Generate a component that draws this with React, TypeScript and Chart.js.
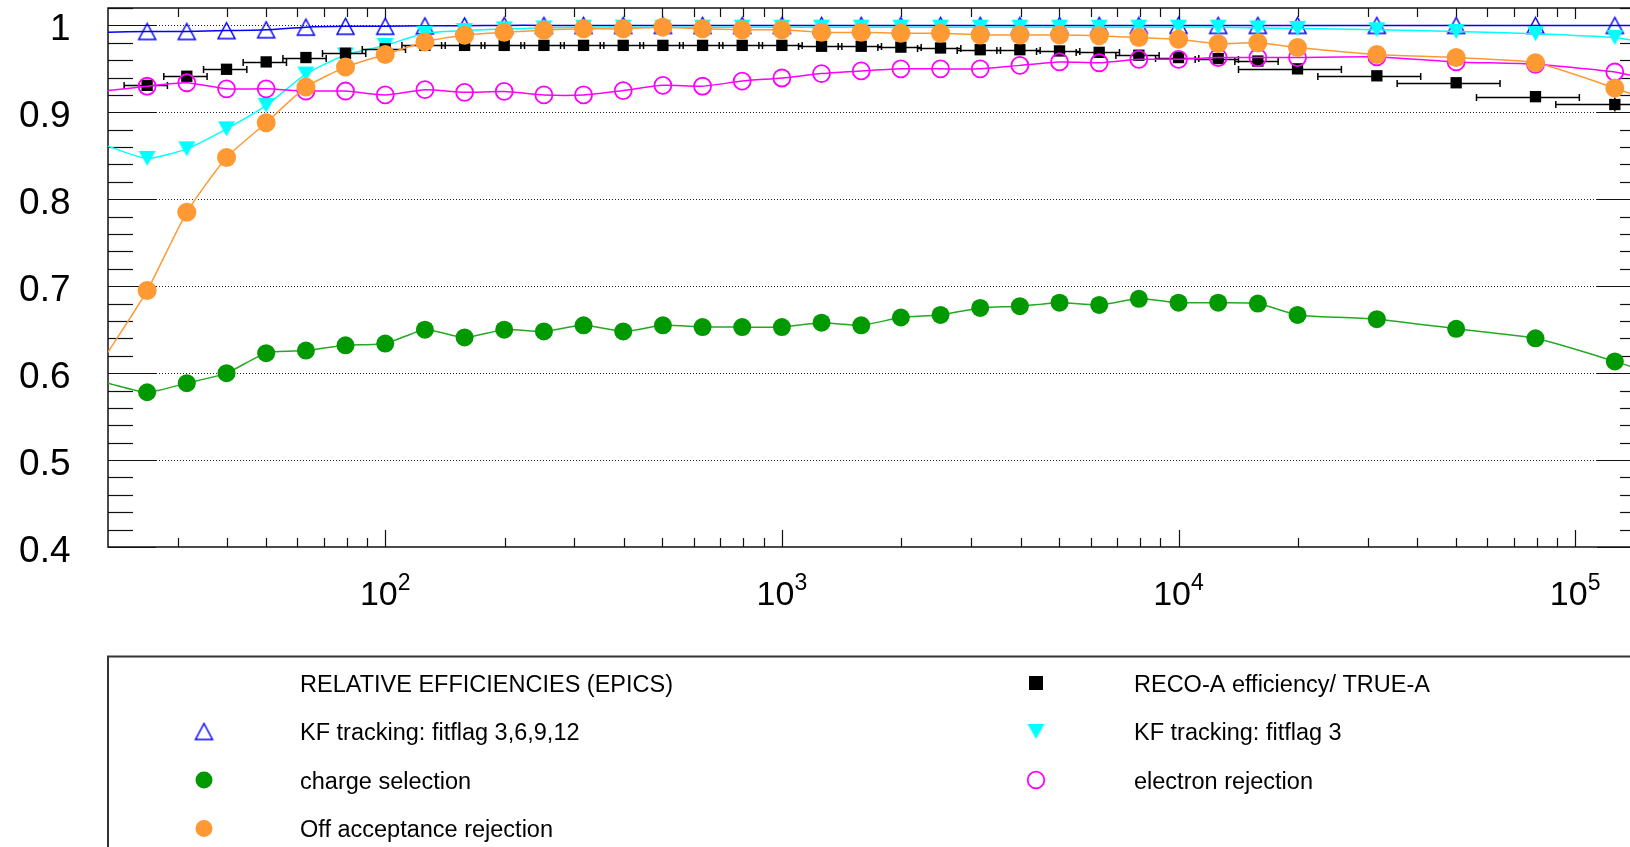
import React, { useEffect, useRef } from "react";
import { Chart, registerables } from "chart.js";

Chart.register(...registerables);

const CANVAS_W = 1700;
const CANVAS_H = 847;
const FONT = '"Liberation Sans", Arial, Helvetica, sans-serif';

// Bin centres on the logarithmic x axis
const binCenters = [
  25.1, 31.6, 39.8, 50.1, 63.1, 79.4, 100, 125.9, 158.5, 199.5,
  251.2, 316.2, 398.1, 501.2, 631.0, 794.3, 1000, 1258.9, 1584.9, 1995.3,
  2511.9, 3162.3, 3981.1, 5011.9, 6309.6, 7943.3, 10000, 12589, 15849, 19953,
  31623, 50119, 79433, 125893,
];
// Where the smoothed curves meet the frame (left / right)
const curveEnds = [20, 150000];

const kfAllFlags = [
  0.993, 0.993, 0.994, 0.995, 0.998, 0.999, 0.999, 0.9995, 0.9995, 1.0,
  1.0, 1.0, 1.0, 1.0, 1.0, 1.0, 1.0, 1.0, 1.0, 1.0,
  1.0, 1.0, 1.0, 1.0, 1.0, 1.0, 1.0, 1.0, 1.0, 1.0,
  1.0, 1.0, 1.0, 1.0,
];
const kfAllEnds = [0.992, 1.0];

const kfFlag3 = [
  0.847, 0.858, 0.881, 0.908, 0.944, 0.966, 0.977, 0.991, 0.994, 0.996,
  0.997, 0.998, 0.998, 0.998, 0.998, 0.998, 0.998, 0.998, 0.998, 0.998,
  0.998, 0.998, 0.998, 0.998, 0.998, 0.998, 0.998, 0.998, 0.997, 0.9965,
  0.995, 0.993, 0.9905, 0.986,
];
const kfFlag3Ends = [0.861, 0.98];

const chargeSel = [
  0.578, 0.5885, 0.6, 0.623, 0.626, 0.632, 0.634, 0.65, 0.641, 0.65,
  0.648, 0.655, 0.648, 0.655, 0.653, 0.653, 0.653, 0.658, 0.655, 0.664,
  0.667, 0.675, 0.677, 0.681, 0.6785, 0.6855, 0.681, 0.681, 0.68, 0.667,
  0.662, 0.651, 0.64, 0.6135,
];
const chargeSelEnds = [0.5885, 0.602];

const offAcceptance = [
  0.695, 0.785, 0.848, 0.888, 0.929, 0.952, 0.9665, 0.981, 0.9887, 0.992,
  0.9945, 0.996, 0.996, 0.998, 0.996, 0.995, 0.995, 0.992, 0.992, 0.991,
  0.991, 0.989, 0.989, 0.989, 0.988, 0.986, 0.984, 0.979, 0.98, 0.9745,
  0.9665, 0.963, 0.957, 0.928,
];
const offAcceptanceEnds = [0.624, 0.915];

const electronRej = [
  0.93, 0.934, 0.927, 0.927, 0.9245, 0.9245, 0.92, 0.926, 0.923, 0.924,
  0.92, 0.92, 0.925, 0.931, 0.93, 0.936, 0.9395, 0.9446, 0.9476, 0.95,
  0.95, 0.95, 0.954, 0.958, 0.957, 0.961, 0.961, 0.963, 0.963, 0.963,
  0.9637, 0.958, 0.9553, 0.9464,
];
const electronRejEnds = [0.925, 0.9388];

const recoEff = [
  0.931, 0.9415, 0.9495, 0.958, 0.963, 0.968, 0.973, 0.977, 0.977, 0.977,
  0.977, 0.977, 0.977, 0.977, 0.977, 0.977, 0.977, 0.976, 0.976, 0.975,
  0.974, 0.972, 0.972, 0.9706, 0.969, 0.9657, 0.963, 0.9618, 0.959, 0.95,
  0.942, 0.934, 0.918, 0.909,
];
// Horizontal error half-width, relative to the bin centre
const recoRelXErr = [
  0.125, 0.125, 0.125, 0.125, 0.125, 0.125, 0.125, 0.125, 0.125, 0.125,
  0.125, 0.125, 0.125, 0.125, 0.125, 0.125, 0.125, 0.125, 0.125, 0.125,
  0.125, 0.125, 0.125, 0.125, 0.125, 0.125, 0.125, 0.125, 0.125, 0.29,
  0.29, 0.29, 0.29, 0.29,
];
const recoYErr = [
  0, 0, 0, 0, 0, 0, 0, 0, 0, 0,
  0, 0, 0, 0, 0, 0, 0, 0, 0, 0,
  0, 0, 0, 0, 0, 0, 0, 0, 0, 0.002,
  0.002, 0.003, 0.004, 0.008,
];

const yTickValues = [0.4, 0.5, 0.6, 0.7, 0.8, 0.9, 1.0];
const yTickLabels = ["0.4", "0.5", "0.6", "0.7", "0.8", "0.9", "1"];
const xDecades = [100, 1000, 10000, 100000];
const xDecadeExponents = ["2", "3", "4", "5"];

const legendTitle = "RELATIVE EFFICIENCIES (EPICS)";
const LBL_KF_ALL = "KF tracking: fitflag 3,6,9,12";
const LBL_CHARGE = "charge selection";
const LBL_OFFACC = "Off acceptance rejection";
const LBL_RECO = "RECO-A efficiency/ TRUE-A";
const LBL_KF3 = "KF tracking: fitflag 3";
const LBL_ELEC = "electron rejection";

const COL_BLUE = "#0000ff";
const COL_CYAN = "#00ffff";
const COL_GREEN = "#009900";
const COL_GREEN_LINE = "#22aa22";
const COL_ORANGE = "#ff9933";
const COL_MAGENTA = "#ff00ff";

function triangleMarker(color: string, filled: boolean, down: boolean, w: number, h: number, lw: number) {
  const c = document.createElement("canvas");
  const pad = 2;
  c.width = Math.ceil(w + 2 * pad);
  c.height = Math.ceil(h + 2 * pad);
  const g = c.getContext("2d")!;
  const cx = c.width / 2;
  const cy = c.height / 2;
  g.beginPath();
  if (down) {
    g.moveTo(cx - w / 2, cy - h / 2);
    g.lineTo(cx + w / 2, cy - h / 2);
    g.lineTo(cx, cy + h / 2);
  } else {
    g.moveTo(cx, cy - h / 2);
    g.lineTo(cx + w / 2, cy + h / 2);
    g.lineTo(cx - w / 2, cy + h / 2);
  }
  g.closePath();
  if (filled) {
    g.fillStyle = color;
    g.fill();
  } else {
    g.strokeStyle = color;
    g.lineWidth = lw;
    g.stroke();
  }
  return c;
}

function curveData(values: number[], ends: number[]) {
  return [
    { x: curveEnds[0], y: ends[0] },
    ...binCenters.map((x, i) => ({ x, y: values[i] })),
    { x: curveEnds[1], y: ends[1] },
  ];
}

function endlessRadius(r: number) {
  const last = binCenters.length + 1;
  return (ctx: any) => (ctx.dataIndex === 0 || ctx.dataIndex === last ? 0 : r);
}

function line(ctx: CanvasRenderingContext2D, x1: number, y1: number, x2: number, y2: number) {
  ctx.beginPath();
  ctx.moveTo(x1, y1);
  ctx.lineTo(x2, y2);
  ctx.stroke();
}

// Frame, inward ticks, dotted grid and tick labels in the style of a ROOT canvas
const frameAxesPlugin = {
  id: "frameAxes",
  beforeDatasetsDraw(chart: any) {
    const { ctx, chartArea: a, scales } = chart;
    const xs = scales.x;
    const ys = scales.y;
    ctx.save();

    ctx.strokeStyle = "#222";
    ctx.lineWidth = 1;
    ctx.setLineDash([1, 2]);
    for (const v of yTickValues) {
      if (v <= 0.4) continue;
      const py = Math.round(ys.getPixelForValue(v)) + 0.5;
      line(ctx, a.left, py, a.right, py);
    }
    ctx.setLineDash([]);

    ctx.strokeStyle = "#111";
    ctx.lineWidth = 1.2;
    for (let k = 20; k <= 51; k++) {
      const v = k * 0.02;
      const py = Math.round(ys.getPixelForValue(v)) + 0.5;
      const len = k % 5 === 0 ? 48 : 25;
      line(ctx, a.left, py, a.left + len, py);
      line(ctx, a.right, py, a.right - len, py);
    }
    for (let e = 1; e <= 5; e++) {
      for (let m = 1; m <= 9; m++) {
        const v = m * Math.pow(10, e);
        if (v <= curveEnds[0] || v >= curveEnds[1]) continue;
        const px = Math.round(xs.getPixelForValue(v)) + 0.5;
        const major = m === 1;
        line(ctx, px, a.bottom, px, a.bottom - (major ? 17 : 9));
        line(ctx, px, a.top, px, a.top + (major ? 11 : 9));
      }
    }

    ctx.strokeStyle = "#111";
    ctx.lineWidth = 1.5;
    ctx.strokeRect(a.left, a.top, a.right - a.left, a.bottom - a.top);

    ctx.fillStyle = "#000";
    ctx.textAlign = "right";
    ctx.textBaseline = "alphabetic";
    ctx.font = `37px ${FONT}`;
    yTickValues.forEach((v, i) => {
      const py = ys.getPixelForValue(v);
      ctx.fillText(yTickLabels[i], 70.5, py + 15);
    });

    ctx.textAlign = "left";
    xDecades.forEach((v, i) => {
      const px = xs.getPixelForValue(v);
      ctx.font = `34px ${FONT}`;
      const wBase = ctx.measureText("10").width;
      ctx.font = `23px ${FONT}`;
      const wExp = ctx.measureText(xDecadeExponents[i]).width;
      const x0 = px - (wBase + wExp) / 2;
      ctx.font = `34px ${FONT}`;
      ctx.fillText("10", x0, 605);
      ctx.font = `23px ${FONT}`;
      ctx.fillText(xDecadeExponents[i], x0 + wBase, 590);
    });
    ctx.restore();
  },
};

// Horizontal (bin width) and vertical error bars of the RECO-A points
const errorBarPlugin = {
  id: "recoErrorBars",
  beforeDatasetDraw(chart: any, args: any) {
    if (chart.data.datasets[args.index].label !== LBL_RECO) return;
    const { ctx, chartArea: a, scales } = chart;
    const xs = scales.x;
    const ys = scales.y;
    ctx.save();
    ctx.beginPath();
    ctx.rect(a.left, a.top, a.right - a.left, a.bottom - a.top);
    ctx.clip();
    ctx.strokeStyle = "#000";
    ctx.lineWidth = 1.5;
    binCenters.forEach((c, i) => {
      const py = Math.round(ys.getPixelForValue(recoEff[i])) + 0.5;
      const px = xs.getPixelForValue(c);
      const lo = xs.getPixelForValue(c * (1 - recoRelXErr[i]));
      const hi = xs.getPixelForValue(c * (1 + recoRelXErr[i]));
      line(ctx, lo, py, hi, py);
      line(ctx, lo, py - 3.5, lo, py + 3.5);
      line(ctx, hi, py - 3.5, hi, py + 3.5);
      if (recoYErr[i] > 0) {
        const top = ys.getPixelForValue(recoEff[i] + recoYErr[i]);
        const bot = ys.getPixelForValue(recoEff[i] - recoYErr[i]);
        line(ctx, px, top, px, bot);
      }
    });
    ctx.restore();
  },
};

function makeLegendPlugin(markers: { up: HTMLCanvasElement; down: HTMLCanvasElement }) {
  return {
    id: "boxLegend",
    afterDraw(chart: any) {
      const { ctx } = chart;
      ctx.save();
      ctx.fillStyle = "#fff";
      ctx.fillRect(108, 656.5, CANVAS_W, 300);
      ctx.strokeStyle = "#333";
      ctx.lineWidth = 2;
      ctx.strokeRect(108, 656.5, CANVAS_W, 300);

      const rows = [683, 731.5, 780, 828.5];
      const leftMarkX = 204;
      const leftTextX = 300;
      const rightMarkX = 1036;
      const rightTextX = 1134;

      ctx.fillStyle = "#000";
      ctx.font = `23.5px ${FONT}`;
      ctx.textAlign = "left";
      ctx.textBaseline = "alphabetic";
      const text = (s: string, x: number, row: number) => ctx.fillText(s, x, rows[row] + 8.6);
      text(legendTitle, leftTextX, 0);
      text(LBL_KF_ALL, leftTextX, 1);
      text(LBL_CHARGE, leftTextX, 2);
      text(LBL_OFFACC, leftTextX, 3);
      text(LBL_RECO, rightTextX, 0);
      text(LBL_KF3, rightTextX, 1);
      text(LBL_ELEC, rightTextX, 2);

      ctx.drawImage(markers.up, leftMarkX - markers.up.width / 2, rows[1] - markers.up.height / 2);
      ctx.fillStyle = COL_GREEN;
      ctx.beginPath();
      ctx.arc(leftMarkX, rows[2], 8.5, 0, Math.PI * 2);
      ctx.fill();
      ctx.fillStyle = COL_ORANGE;
      ctx.beginPath();
      ctx.arc(leftMarkX, rows[3], 8.5, 0, Math.PI * 2);
      ctx.fill();

      ctx.fillStyle = "#000";
      ctx.fillRect(rightMarkX - 7, rows[0] - 7, 14, 14);
      ctx.drawImage(markers.down, rightMarkX - markers.down.width / 2, rows[1] - markers.down.height / 2);
      ctx.strokeStyle = COL_MAGENTA;
      ctx.lineWidth = 1.8;
      ctx.beginPath();
      ctx.arc(rightMarkX, rows[2], 8.3, 0, Math.PI * 2);
      ctx.stroke();
      ctx.restore();
    },
  };
}

export default function App() {
  const canvasRef = useRef<HTMLCanvasElement>(null);

  useEffect(() => {
    const canvas = canvasRef.current;
    if (!canvas) return;
    const upTri = triangleMarker(COL_BLUE, false, false, 17, 16, 1.5);
    const downTri = triangleMarker(COL_CYAN, true, true, 17, 15, 1);

    const chart = new Chart(canvas, {
      type: "line",
      data: {
        datasets: [
          {
            label: LBL_OFFACC,
            data: curveData(offAcceptance, offAcceptanceEnds),
            borderColor: COL_ORANGE,
            borderWidth: 1.5,
            tension: 0.2,
            pointStyle: "circle",
            pointRadius: endlessRadius(9.5),
            pointBackgroundColor: COL_ORANGE,
            pointBorderWidth: 0,
          },
          {
            label: LBL_ELEC,
            data: curveData(electronRej, electronRejEnds),
            borderColor: COL_MAGENTA,
            borderWidth: 1.5,
            tension: 0.2,
            pointStyle: "circle",
            pointRadius: endlessRadius(8.5),
            pointBackgroundColor: "rgba(0,0,0,0)",
            pointBorderColor: COL_MAGENTA,
            pointBorderWidth: 1.8,
          },
          {
            label: LBL_RECO,
            data: binCenters.map((x, i) => ({ x, y: recoEff[i] })),
            showLine: false,
            pointStyle: "rect",
            pointRadius: 8,
            pointBackgroundColor: "#000",
            pointBorderWidth: 0,
          },
          {
            label: LBL_KF3,
            data: curveData(kfFlag3, kfFlag3Ends),
            borderColor: COL_CYAN,
            borderWidth: 1.5,
            tension: 0.2,
            pointStyle: downTri,
            pointRadius: endlessRadius(9),
          },
          {
            label: LBL_KF_ALL,
            data: curveData(kfAllFlags, kfAllEnds),
            borderColor: COL_BLUE,
            borderWidth: 1.5,
            tension: 0.2,
            pointStyle: upTri,
            pointRadius: endlessRadius(9),
          },
          {
            label: LBL_CHARGE,
            data: curveData(chargeSel, chargeSelEnds),
            borderColor: COL_GREEN_LINE,
            borderWidth: 1.5,
            tension: 0.2,
            pointStyle: "circle",
            pointRadius: endlessRadius(9),
            pointBackgroundColor: COL_GREEN,
            pointBorderWidth: 0,
          },
        ] as any,
      },
      options: {
        responsive: false,
        animation: false,
        devicePixelRatio: 1,
        events: [],
        layout: { padding: { left: 108, top: 7.5, right: CANVAS_W - 1645, bottom: CANVAS_H - 547 } },
        scales: {
          x: { type: "logarithmic", min: curveEnds[0], max: curveEnds[1], display: false },
          y: { type: "linear", min: 0.4, max: 1.02, display: false },
        },
        plugins: { legend: { display: false }, tooltip: { enabled: false } },
      } as any,
      plugins: [frameAxesPlugin, errorBarPlugin, makeLegendPlugin({ up: upTri, down: downTri })],
    });
    return () => chart.destroy();
  }, []);

  return (
    <div
      style={{
        position: "fixed",
        left: 0,
        top: 0,
        width: 1630,
        height: 847,
        overflow: "hidden",
        background: "#fff",
      }}
    >
      <canvas
        ref={canvasRef}
        width={CANVAS_W}
        height={CANVAS_H}
        style={{ display: "block", width: CANVAS_W, height: CANVAS_H }}
      />
    </div>
  );
}
